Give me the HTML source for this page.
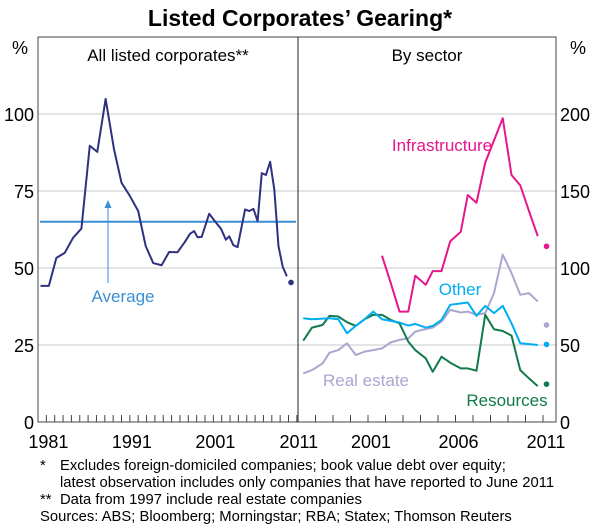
<!DOCTYPE html>
<html><head><meta charset="utf-8"><style>
body{margin:0;background:#fff;}
svg{display:block;font-family:"Liberation Sans",Arial,sans-serif;}
</style></head><body>
<svg id="chart" width="600" height="531" viewBox="0 0 600 531" xmlns="http://www.w3.org/2000/svg">
<text x="300" y="26" text-anchor="middle" font-size="23" font-weight="bold">Listed Corporates’ Gearing*</text>
<g id="grid"></g>
<g id="ticks"></g>
<g id="series"></g>
<rect x="38" y="37" width="518" height="385" fill="none" stroke="#444" stroke-width="1"/>
<line x1="298" y1="37" x2="298" y2="422" stroke="#222" stroke-width="1"/>
<text x="168" y="61" text-anchor="middle" font-size="17">All listed corporates**</text>
<text x="427" y="61" text-anchor="middle" font-size="17">By sector</text>
<text x="20" y="54" text-anchor="middle" font-size="18">%</text>
<text x="578" y="54" text-anchor="middle" font-size="18">%</text>
<text x="123" y="302" text-anchor="middle" font-size="17" fill="#3a8fd4">Average</text>
<line x1="108" y1="283" x2="108" y2="208" stroke="#3a8fd4" stroke-width="1"/>
<polygon points="104.5,208 111.5,208 108,200" fill="#3a8fd4"/>
<text x="442" y="151" text-anchor="middle" font-size="17" fill="#e6168c">Infrastructure</text>
<text x="460" y="295" text-anchor="middle" font-size="17" fill="#00aeef">Other</text>
<text x="366" y="386" text-anchor="middle" font-size="17" fill="#aaa6cf">Real estate</text>
<text x="507" y="406" text-anchor="middle" font-size="17" fill="#127a4a">Resources</text>
<g font-size="14.8">
<text x="40" y="470">*</text><text x="60" y="470">Excludes foreign-domiciled companies; book value debt over equity;</text>
<text x="60" y="487">latest observation includes only companies that have reported to June 2011</text>
<text x="40" y="504">**</text><text x="60" y="504">Data from 1997 include real estate companies</text>
<text x="40" y="521">Sources: ABS; Bloomberg; Morningstar; RBA; Statex; Thomson Reuters</text>
</g>
</svg>
<script>
const leftTicks=[0,25,50,75,100];
const rightTicks=[0,50,100,150,200];
const leftYearLabels=[1981,1991,2001,2011];
const rightYearLabels=[2001,2006,2011];
const averageValue=65;
const allYears=[1980.3,1981.3,1982.2,1983.2,1984.2,1985.2,1986.2,1987.1,1988.1,1989.1,1990.0,1991.0,1992.0,1992.9,1993.8,1994.8,1995.7,1996.7,1997.6,1998.2,1998.7,1999.1,1999.6,2000.5,2001.5,2001.9,2002.5,2002.9,2003.4,2003.9,2004.8,2005.3,2005.8,2006.3,2006.8,2007.3,2007.8,2008.3,2008.8,2009.3,2009.8];
const allValues=[44.2,44.2,53.3,54.9,59.8,62.8,89.7,87.7,104.9,88.6,77.7,73.4,68.5,57.1,51.6,50.9,55.2,55.1,58.5,61.1,62,60,60.1,67.6,64.1,62.8,59.2,60.3,57.4,56.8,69.0,68.5,69.2,65.2,80.8,80.2,84.5,75.5,57.1,50.5,47.3];
const allLatest=[2010.3,45.3];
const infraYears=[2001.8,2002.3,2002.8,2003.3,2003.7,2004.3,2004.7,2005.2,2005.7,2006.3,2006.7,2007.2,2007.7,2008.7,2009.2,2009.7,2010.2,2010.7];
const infraValues=[108,90.2,71.7,71.7,95,89.1,98,98,117.4,123.5,147.4,142.4,168.5,197.2,160.4,153.7,137,120.7];
const infraLatest=[2011.2,114.1];
const otherYears=[1997.3,1997.8,1998.8,1999.3,1999.8,2000.3,2000.8,2001.3,2001.8,2002.8,2003.3,2003.7,2004.3,2004.7,2005.2,2005.7,2006.7,2007.2,2007.7,2008.2,2008.7,2009.2,2009.7,2010.7];
const otherValues=[67.4,66.7,67.4,66.7,57.6,62.4,66.7,71.7,66.7,64.6,62.6,63.7,61.3,62.4,66.3,76.1,77.6,68.9,75.4,70.7,75.4,64.1,51.1,50];
const otherLatest=[2011.2,50.4];
const resYears=[1997.3,1997.8,1998.4,1998.8,1999.3,1999.8,2000.3,2000.8,2001.3,2001.8,2002.3,2002.8,2003.3,2003.7,2004.3,2004.7,2005.2,2005.7,2006.3,2006.7,2007.2,2007.7,2008.2,2008.7,2009.2,2009.7,2010.2,2010.7];
const resValues=[52.8,61.3,63,68.9,68.5,64.8,62.4,66.7,69.6,69.6,66.3,64.1,52.2,46.7,41.3,32.6,42.4,38.5,34.8,34.8,33.3,69.6,60.2,59.1,56.1,33.7,28.3,23.3];
const resLatest=[2011.2,24.6];
const reYears=[1997.3,1997.8,1998.4,1998.8,1999.3,1999.8,2000.3,2000.8,2001.3,2001.8,2002.3,2002.8,2003.3,2003.7,2004.3,2004.7,2005.2,2005.7,2006.3,2006.7,2007.2,2007.7,2008.2,2008.7,2009.2,2009.7,2010.2,2010.7];
const reValues=[31.5,33.7,38,45,46.7,51.1,43.5,45.7,46.7,47.8,51.7,53.3,54.3,58.7,60.4,61.3,65.2,72.8,71.1,71.7,69.6,70.7,83.7,108.7,96.7,82.6,83.7,78.3];
const reLatest=[2011.2,63];

const NS="http://www.w3.org/2000/svg";
const yL=v=>422-v*3.08;
const yR=v=>422-v*1.54;
const xL=t=>38+(t-1980)*8.35;
const xR=t=>298+(t-1997)*17.5;
function mk(tag,attrs,parent){const e=document.createElementNS(NS,tag);for(const k in attrs)e.setAttribute(k,attrs[k]);document.getElementById(parent).appendChild(e);return e;}
leftTicks.forEach(v=>{
 if(v>0){const g=mk('line',{x1:38,x2:556,y1:yL(v),y2:yL(v),stroke:'#c8c8c8','stroke-width':1},'grid');
 
 }
 const t=mk('text',{x:34,y:yL(v)+7,'text-anchor':'end','font-size':18},'grid');t.textContent=v;
 
 
});
rightTicks.forEach(v=>{
 const t=mk('text',{x:560,y:yR(v)+7,'text-anchor':'start','font-size':18},'grid');t.textContent=v;
 
 
});
for(let yr=1981;yr<=2011;yr++){const l=mk('line',{x1:xL(yr),x2:xL(yr),y1:422,y2:415,stroke:'#444'},'ticks');
 
 }
for(let yr=1998;yr<=2011;yr++){const l=mk('line',{x1:xR(yr),x2:xR(yr),y1:422,y2:415,stroke:'#444'},'ticks');
 
 }
leftYearLabels.forEach(yr=>{const t=mk('text',{x:xL(yr)+2,y:448,'text-anchor':'middle','font-size':18},'ticks');t.textContent=yr;
 
 });
rightYearLabels.forEach(yr=>{const t=mk('text',{x:xR(yr)+3,y:448,'text-anchor':'middle','font-size':18},'ticks');t.textContent=yr;
 
 });
const avg=mk('line',{x1:40,x2:296,y1:yL(averageValue),y2:yL(averageValue),stroke:'#3a8fd4','stroke-width':2},'series');


function series(xs,vs,latest,xf,yf,color,name){
 const p=mk('polyline',{points:xs.map((t,i)=>xf(t)+','+yf(vs[i])).join(' '),fill:'none',stroke:color,'stroke-width':2,'stroke-linejoin':'round'},'series');
 
 
 const c=mk('circle',{cx:xf(latest[0]),cy:yf(latest[1]),r:2.8,fill:color},'series');
 
 
}
series(allYears,allValues,allLatest,xL,yL,'#2e3180','all-corporates');
series(reYears,reValues,reLatest,xR,yR,'#aaa6cf','real-estate');
series(resYears,resValues,resLatest,xR,yR,'#127a4a','resources');
series(otherYears,otherValues,otherLatest,xR,yR,'#00aeef','other');
series(infraYears,infraValues,infraLatest,xR,yR,'#e6168c','infrastructure');
</script>
</body></html>
